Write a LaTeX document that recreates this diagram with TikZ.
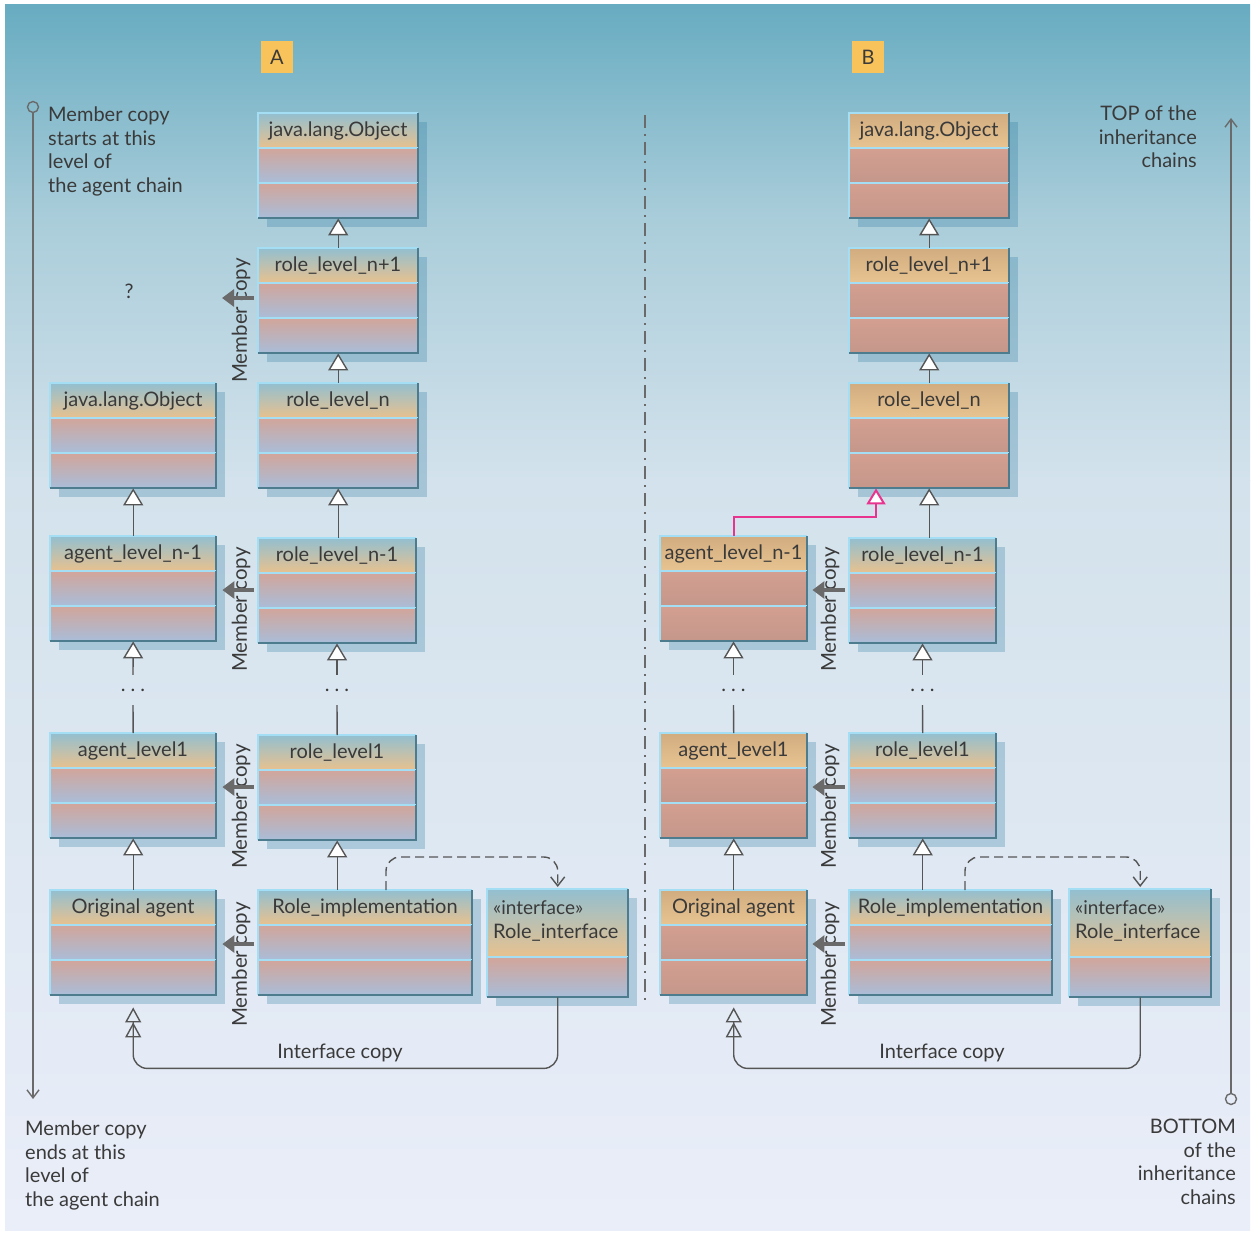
\documentclass[tikz,border=0pt]{standalone}
\usepackage{fontspec}
\setmainfont{Lato}
\usetikzlibrary{arrows.meta,calc}
\definecolor{bgA}{HTML}{68ACC1}
\definecolor{bgB}{HTML}{AACDDA}
\definecolor{bgC}{HTML}{D3E2EC}
\definecolor{bgD}{HTML}{EAEEF9}
\definecolor{hdrT}{HTML}{93BFD0}
\definecolor{hdrB}{HTML}{E8C18E}
\definecolor{cmpT}{HTML}{D2A59A}
\definecolor{cmpB}{HTML}{A9BDD9}
\definecolor{shT}{HTML}{D1AC80}
\definecolor{shB}{HTML}{E8C491}
\definecolor{scT}{HTML}{D39F90}
\definecolor{scB}{HTML}{C4978B}
\definecolor{edL}{HTML}{A3DEF5}
\definecolor{edD}{HTML}{4E7C8F}
\definecolor{shad}{HTML}{2E7AA0}
\definecolor{conn}{HTML}{555555}
\definecolor{txt}{HTML}{3A3A3A}
\definecolor{pinkc}{HTML}{E8348F}
\definecolor{orangeb}{HTML}{F8C35A}
\definecolor{mcol}{HTML}{6A6A6A}

\tikzset{
  hdrg/.style={top color=hdrT, bottom color=hdrB},
  cmpg/.style={top color=cmpT, bottom color=cmpB},
  hdrs/.style={top color=shT, bottom color=shB},
  cmps/.style={top color=scT, bottom color=scB},
  edgeL/.style={draw=edL, line width=2.5pt},
  edgeD/.style={draw=edD, line width=2.5pt},
  shadowc/.style={fill=shad, fill opacity=0.28},
  lbl/.style={font=\fontsize{20}{23}\selectfont, text=txt, inner sep=0pt},
  side/.style={font=\fontsize{20}{23.5}\selectfont, text=txt, inner sep=0pt},
  mlbl/.style={font=\fontsize{20.5}{24}\selectfont, text=txt, inner sep=0pt, rotate=90, anchor=west},
  cline/.style={draw=conn, line width=1.4pt},
  gen/.style={cline, -{Triangle[fill=white, length=17pt, width=20pt]}},
  pgen/.style={draw=pinkc, line width=2pt, -{Triangle[fill=white, length=16pt, width=19pt]}},
  real/.style={cline, dashed, dash pattern=on 9pt off 5pt, -{Straight Barb[length=9pt, width=14pt]}},
  icopy/.style={cline, rounded corners=14pt, -{Triangle[open, length=15pt, width=16pt] Triangle[open, length=15pt, width=16pt]}},
  mcopy/.style={draw=mcol, line width=4.5pt, -{Triangle[length=12pt, width=17pt]}},
  tline/.style={draw=mcol, line width=1.4pt},
  tcirc/.style={circle, draw=mcol, line width=1.4pt, minimum size=11pt, inner sep=0pt},
  dotsn/.style={lbl, minimum height=30pt},
  sepl/.style={draw=mcol, line width=1.5pt, dash pattern=on 13pt off 6pt on 2pt off 6pt},
  abox/.style={fill=orangeb, minimum size=32pt, inner sep=0pt, font=\fontsize{20}{24}\selectfont, text=txt}
}

\newcommand\cpart[5]{%
  \shade[#5] (#1,#2) rectangle (#1+#3,#2+#4);
  \draw[edgeL] (#1,#2+#4) -- (#1,#2) -- (#1+#3,#2);
  \draw[edgeD] (#1,#2+#4) -- (#1+#3,#2+#4) -- (#1+#3,#2);
}
\newcommand\classbox[6][g]{%
  \fill[shadowc] (#3+9,#4+9) rectangle (#3+#5+9,#4+114);
  \cpart{#3}{#4}{#5}{35}{hdr#1}
  \cpart{#3}{#4+35}{#5}{35}{cmp#1}
  \cpart{#3}{#4+70}{#5}{35}{cmp#1}
  \node[inner sep=0pt, minimum width=#5pt, minimum height=105pt, anchor=north west] (#2) at (#3,#4) {};
  \node[lbl] at (#3+#5/2,#4+18) {#6};
}
\newcommand\ifacebox[5][g]{%
  \fill[shadowc] (#3+9,#4+9) rectangle (#3+#5+9,#4+117);
  \cpart{#3}{#4}{#5}{68}{hdr#1}
  \cpart{#3}{#4+68}{#5}{40}{cmp#1}
  \node[inner sep=0pt, minimum width=#5pt, minimum height=108pt, anchor=north west] (#2) at (#3,#4) {};
  \node[lbl, align=left, anchor=west] at (#3+6,#4+32) {\fontsize{19}{22}\selectfont«interface»\\[1pt]Role\_interface};
}

\begin{document}
\begin{tikzpicture}[x=1pt,y=-1pt]
\useasboundingbox (0,0) rectangle (1252,1233);
% background
\fill[white] (0,0) rectangle (1252,1233);
\shade[top color=bgA, bottom color=bgB] (5,5) rectangle (1250,220);
\shade[top color=bgB, bottom color=bgC] (5,220) rectangle (1250,480);
\shade[top color=bgC, bottom color=bgD] (5,480) rectangle (1250,1230);

% labels A / B
\node[abox] (labA) at (277,57) {A};
\node[abox] (labB) at (868,57) {B};

% timelines
\node[tcirc] (ltop) at (33,107) {};
\coordinate (lbot) at (33,1099);
\draw[tline, -{Straight Barb[length=8pt, width=12pt]}] (ltop.south) -- (lbot);
\node[tcirc] (rbot) at (1231,1099) {};
\coordinate (rtop) at (1231,118);
\draw[tline, -{Straight Barb[length=8pt, width=12pt]}] (rbot.north) -- (rtop);

\node[side, anchor=north west, align=left] (ltxt) at (48,107) {Member copy\\starts at this\\level of\\the agent chain};
\node[side, anchor=north west, align=left] (lbtxt) at (25,1121) {Member copy\\ends at this\\level of\\the agent chain};
\node[side, anchor=north east, align=right] (rtxt) at (1197,106) {TOP of the\\inheritance\\chains};
\node[side, anchor=north east, align=right] (rbtxt) at (1236,1119) {BOTTOM\\of the\\inheritance\\chains};

% separator
\draw[sepl] (645,115) -- (645,1005);

% ===== A =====
\classbox[g]{objA}{258}{113}{160}{java.lang.Object}
\classbox[g]{rnpA}{258}{248}{160}{role\_level\_n+1}
\classbox[g]{rnA}{258}{383}{160}{role\_level\_n}
\classbox[g]{objLA}{50}{383}{166}{java.lang.Object}
\classbox[g]{anmA}{50}{536}{166}{agent\_level\_n-1}
\classbox[g]{rnmA}{258}{538}{158}{role\_level\_n-1}
\classbox[g]{aoneA}{50}{733}{166}{agent\_level1}
\classbox[g]{roneA}{258}{735}{158}{role\_level1}
\classbox[g]{origA}{50}{890}{166}{Original agent}
\classbox[g]{implA}{258}{890}{214}{Role\_implementation}
\ifacebox[g]{intA}{487}{889}{141}

% ===== B =====
\classbox[s]{objB}{849}{113}{160}{java.lang.Object}
\classbox[s]{rnpB}{849}{248}{160}{role\_level\_n+1}
\classbox[s]{rnB}{849}{383}{160}{role\_level\_n}
\classbox[s]{anmB}{660}{536}{147}{agent\_level\_n-1}
\classbox[g]{rnmB}{849}{538}{147}{role\_level\_n-1}
\classbox[s]{aoneB}{660}{733}{147}{agent\_level1}
\classbox[g]{roneB}{849}{733}{147}{role\_level1}
\classbox[s]{origB}{660}{890}{147}{Original agent}
\classbox[g]{implB}{849}{890}{203}{Role\_implementation}
\ifacebox[g]{intB}{1069}{889}{142}

% dots
\node[dotsn] (dA1) at (133,690) {.\hspace{5pt}.\hspace{5pt}.};
\node[dotsn] (dA2) at (337,690) {.\hspace{5pt}.\hspace{5pt}.};
\node[dotsn] (dB1) at (733.5,690) {.\hspace{5pt}.\hspace{5pt}.};
\node[dotsn] (dB2) at (922.5,690) {.\hspace{5pt}.\hspace{5pt}.};

% generalisations A
\draw[gen] (rnpA.north) -- (objA.south);
\draw[gen] (rnA.north) -- (rnpA.south);
\draw[gen] (anmA.north) -- (objLA.south);
\draw[gen] (rnA.south |- rnmA.north) -- (rnA.south);
\draw[cline] (aoneA.north) -- (dA1.south);
\draw[gen] (dA1.north) -- (anmA.south);
\draw[cline] (roneA.north) -- (dA2.south);
\draw[gen] (dA2.north) -- (dA2.north |- rnmA.south);
\draw[gen] (origA.north) -- (aoneA.south);
\draw[gen] (roneA.south |- implA.north) -- (roneA.south);
\draw[real, rounded corners=14pt] ($(implA.north west)+(128,0)$) |- ($(intA.north)+(0,-32)$) -- ($(intA.north)+(0,-2)$);
\draw[icopy] (intA.south) |- ($(origA.south)+(0,73)$) -- ($(origA.south)+(0,12)$);
\node[side] (icA) at (340,1053) {Interface copy};

% generalisations B
\draw[gen] (rnpB.north) -- (objB.south);
\draw[gen] (rnB.north) -- (rnpB.south);
\draw[gen] (rnmB.north -| rnB.south) -- (rnB.south);
\draw[pgen] (anmB.north) |- ($(rnB.south west)+(27,29)$) -- ($(rnB.south west)+(27,0)$);
\draw[cline] (aoneB.north) -- (dB1.south);
\draw[gen] (dB1.north) -- (dB1.north |- anmB.south);
\draw[cline] (roneB.north) -- (dB2.south);
\draw[gen] (dB2.north) -- (dB2.north |- rnmB.south);
\draw[gen] (origB.north) -- (aoneB.south);
\draw[gen] (roneB.south |- implB.north) -- (roneB.south);
\draw[real, rounded corners=14pt] ($(implB.north west)+(116,0)$) |- ($(intB.north)+(0,-32)$) -- ($(intB.north)+(0,-2)$);
\draw[icopy] (intB.south) |- ($(origB.south)+(0,73)$) -- ($(origB.south)+(0,12)$);
\node[side] (icB) at (942,1053) {Interface copy};

% member copy
\node[side] (qm) at (129,291) {?};
\coordinate (qend) at (222,298);
\node[mlbl] (mA1) at (241,383) {Member copy};
\node[mlbl] (mA2) at (241,672) {Member copy};
\node[mlbl] (mA3) at (241,869) {Member copy};
\node[mlbl] (mA4) at (241,1027) {Member copy};
\node[mlbl] (mB2) at (830,672) {Member copy};
\node[mlbl] (mB3) at (830,869) {Member copy};
\node[mlbl] (mB4) at (830,1027) {Member copy};
\draw[mcopy, shorten <=4pt] (rnpA.west |- 0,298) -- (qend);
\draw[mcopy, shorten <=4pt, shorten >=6pt] (rnmA.west |- 0,590) -- (anmA.east |- 0,590);
\draw[mcopy, shorten <=4pt, shorten >=6pt] (roneA.west |- 0,787) -- (aoneA.east |- 0,787);
\draw[mcopy, shorten <=4pt, shorten >=6pt] (implA.west |- 0,944) -- (origA.east |- 0,944);
\draw[mcopy, shorten <=4pt, shorten >=5pt] (rnmB.west |- 0,590) -- (anmB.east |- 0,590);
\draw[mcopy, shorten <=4pt, shorten >=5pt] (roneB.west |- 0,787) -- (aoneB.east |- 0,787);
\draw[mcopy, shorten <=4pt, shorten >=5pt] (implB.west |- 0,944) -- (origB.east |- 0,944);
\end{tikzpicture}
\end{document}
